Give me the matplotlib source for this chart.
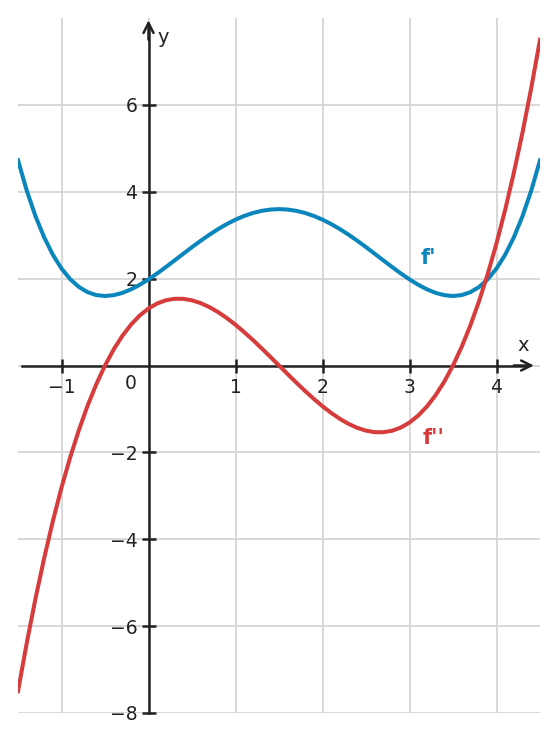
import matplotlib
matplotlib.use('Agg')
import matplotlib.pyplot as plt

# Werte (Schritt 0.1)
x_vals = [-1.5, -1.4, -1.3, -1.2, -1.1, -1.0, -0.9, -0.8, -0.7, -0.6, -0.5,
          -0.4, -0.3, -0.2, -0.1, 0.0, 0.1, 0.2, 0.3, 0.4, 0.5,
          0.6, 0.7, 0.8, 0.9, 1.0, 1.1, 1.2, 1.3, 1.4, 1.5,
          1.6, 1.7, 1.8, 1.9, 2.0, 2.1, 2.2, 2.3, 2.4, 2.5,
          2.6, 2.7, 2.8, 2.9, 3.0, 3.1, 3.2, 3.3, 3.4, 3.5,
          3.6, 3.7, 3.8, 3.9, 4.0, 4.1, 4.2, 4.3, 4.4, 4.5]
f1_vals = [4.725, 4.031, 3.443, 2.953, 2.552, 2.233, 1.987, 1.808, 1.688,
           1.621, 1.6, 1.619, 1.672, 1.754, 1.859, 1.983, 2.120, 2.267,
           2.419, 2.573, 2.725, 2.872, 3.011, 3.140, 3.256, 3.358, 3.443,
           3.511, 3.560, 3.590, 3.6, 3.590, 3.560, 3.511, 3.443, 3.358,
           3.256, 3.140, 3.011, 2.872, 2.725, 2.573, 2.419, 2.267, 2.120,
           1.983, 1.859, 1.754, 1.672, 1.619, 1.6, 1.621, 1.688, 1.808,
           1.987, 2.233, 2.552, 2.953, 3.443, 4.031, 4.725]
f2_vals = [-7.5, -6.395, -5.376, -4.442, -3.588, -2.813, -2.112, -1.484,
           -0.924, -0.431, 0.0, 0.371, 0.684, 0.944, 1.152, 1.313, 1.428,
           1.502, 1.536, 1.535, 1.5, 1.436, 1.344, 1.229, 1.092, 0.938,
           0.768, 0.587, 0.396, 0.200, 0.0, -0.200, -0.396, -0.587, -0.768,
           -0.938, -1.092, -1.229, -1.344, -1.436, -1.5, -1.535, -1.536,
           -1.502, -1.428, -1.313, -1.152, -0.944, -0.684, -0.371, 0.0,
           0.431, 0.924, 1.484, 2.112, 2.813, 3.588, 4.442, 5.376, 6.395,
           7.5]

x_ticks = [-1, 1, 2, 3, 4]
y_ticks = [-8, -6, -4, -2, 2, 4, 6]
grid_x = [-1, 0, 1, 2, 3, 4]
grid_y = [-8, -6, -4, -2, 0, 2, 4, 6]

BLUE = '#0a86bd'
RED = '#d63c3c'
DARK = '#222222'
GRID = '#d6d6d6'

fig = plt.figure(figsize=(5.57, 7.41), dpi=100)
ax = fig.add_axes([18 / 557, 28 / 741, 522 / 557, 695 / 741])
ax.set_xlim(-1.5, 4.5)
ax.set_ylim(-8, 8)

# gitter
for gx in grid_x:
    ax.axvline(gx, color=GRID, lw=1.3, zorder=0)
for gy in grid_y:
    ax.axhline(gy, color=GRID, lw=1.3, zorder=0)

# kurven
ax.plot(x_vals, f1_vals, color=BLUE, lw=2.9, zorder=3,
        solid_joinstyle='round')
ax.plot(x_vals, f2_vals, color=RED, lw=2.9, zorder=3,
        solid_joinstyle='round')

# achsen durch den ursprung
for s in ['top', 'right']:
    ax.spines[s].set_visible(False)
ax.spines['left'].set_position(('data', 0))
ax.spines['bottom'].set_position(('data', 0))
ax.spines['left'].set_bounds(-8, 7.8)
ax.spines['bottom'].set_bounds(-1.45, 4.35)
for s in ['left', 'bottom']:
    ax.spines[s].set_color(DARK)
    ax.spines[s].set_linewidth(1.8)
    ax.spines[s].set_zorder(2)

ax.set_xticks(x_ticks)
ax.set_yticks(y_ticks)
ax.tick_params(direction='inout', length=10, width=1.8, color=DARK,
               labelcolor=DARK, labelsize=13.5)
ax.tick_params(axis='x', pad=4)
ax.tick_params(axis='y', pad=3)

# pfeile
ax.annotate('', xy=(4.43, 0), xytext=(4.2, 0),
            arrowprops=dict(arrowstyle='->', color=DARK, lw=1.8,
                            mutation_scale=18, shrinkA=0, shrinkB=0), zorder=4)
ax.annotate('', xy=(0, 7.95), xytext=(0, 7.5),
            arrowprops=dict(arrowstyle='->', color=DARK, lw=1.8,
                            mutation_scale=18, shrinkA=0, shrinkB=0), zorder=4)

ax.text(-0.2, -0.42, '0', ha='center', va='center', fontsize=13.5, color=DARK)
ax.text(4.31, 0.46, 'x', ha='center', va='center', fontsize=14, color=DARK)
ax.text(0.17, 7.54, 'y', ha='center', va='center', fontsize=14, color=DARK)

ax.text(3.22, 2.48, "f'", ha='center', va='center', fontsize=15,
        fontweight='bold', color=BLUE)
ax.text(3.28, -1.68, "f''", ha='center', va='center', fontsize=15,
        fontweight='bold', color=RED)

plt.savefig('out.png', dpi=100)
